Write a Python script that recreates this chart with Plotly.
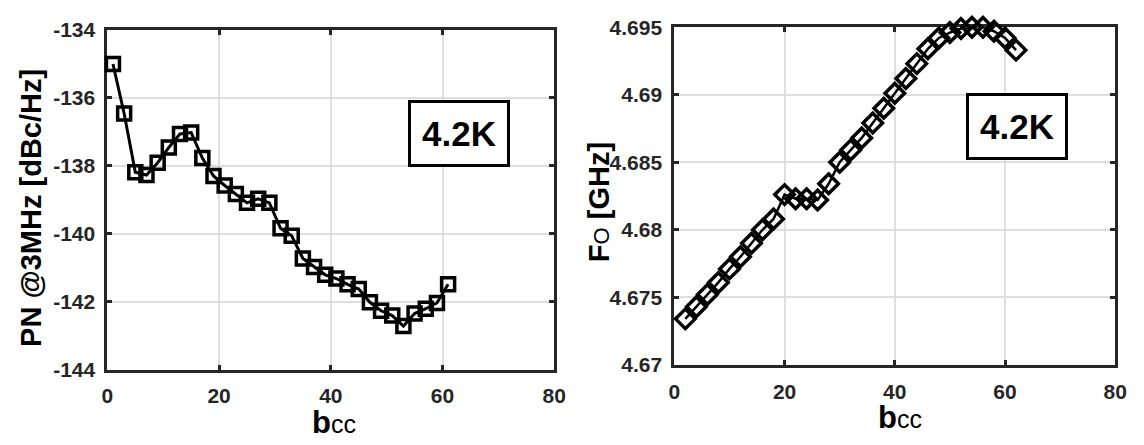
import plotly.graph_objects as go

# ---------------- data ----------------
bcc_left = [1, 3, 5, 7, 9, 11, 13, 15, 17, 19, 21, 23, 25, 27, 29, 31,
            33, 35, 37, 39, 41, 43, 45, 47, 49, 51, 53, 55, 57, 59, 61]
pn_dbc = [-135.0, -136.46, -138.19, -138.27, -137.91, -137.46, -137.06, -137.02,
          -137.77, -138.30, -138.58, -138.83, -139.09, -138.97, -139.09, -139.84,
          -140.06, -140.73, -140.98, -141.21, -141.32, -141.49, -141.63, -142.02,
          -142.27, -142.41, -142.72, -142.35, -142.21, -142.04, -141.49]

bcc_right = [2, 4, 6, 8, 10, 12, 14, 16, 18, 20, 22, 24, 26, 28, 30, 32,
             34, 36, 38, 40, 42, 44, 46, 48, 50, 52, 54, 56, 58, 60, 62]
f0_ghz = [4.6734, 4.6743, 4.6752, 4.6761, 4.6771, 4.6780, 4.6790, 4.6800,
          4.6808, 4.6826, 4.6823, 4.6823, 4.6822, 4.6834, 4.6850, 4.6859,
          4.6868, 4.6879, 4.6890, 4.6901, 4.6912, 4.6923, 4.6934, 4.6942,
          4.6946, 4.6949, 4.6950, 4.6950, 4.6947, 4.6942, 4.6933]

x_ticks = [0, 20, 40, 60, 80]
x_ticktext = ["0", "20", "40", "60", "80"]
pn_ticks = [-144, -142, -140, -138, -136, -134]
pn_ticktext = ["-144", "-142", "-140", "-138", "-136", "-134"]
f_ticks = [4.67, 4.675, 4.68, 4.685, 4.69, 4.695]
f_ticktext = ["4.67", "4.675", "4.68", "4.685", "4.69", "4.695"]

temp_label = "4.2K"

# ---------------- style ----------------
AX = "#262626"
GRID = "#dedede"
FONT = "Liberation Sans, Arial, sans-serif"
TICKFONT = dict(family=FONT, size=21, color=AX)


def bold(labels):
    return ["<b>" + t + "</b>" for t in labels]


fig = go.Figure()

fig.add_trace(go.Scatter(
    x=bcc_left, y=pn_dbc, mode="lines+markers", xaxis="x", yaxis="y",
    line=dict(color="black", width=3),
    marker=dict(symbol="square-open", size=13, color="black", line=dict(width=3.5, color="black")),
    cliponaxis=False, showlegend=False))

fig.add_trace(go.Scatter(
    x=bcc_right, y=f0_ghz, mode="lines+markers", xaxis="x2", yaxis="y2",
    line=dict(color="black", width=2.5),
    marker=dict(symbol="diamond-open", size=15, color="black", line=dict(width=3.5, color="black")),
    cliponaxis=False, showlegend=False))

W, H = 1144, 445


def px_x(p):
    return p / W


def px_y(p):
    return 1 - p / H


common_axis = dict(showline=True, linecolor=AX, linewidth=3, mirror="ticks",
                   ticks="inside", ticklen=5, tickwidth=3, tickcolor=AX,
                   showgrid=True, gridcolor=GRID, gridwidth=2, zeroline=False,
                   tickfont=TICKFONT, layer="below traces")

fig.update_layout(
    width=W, height=H,
    margin=dict(l=0, r=0, t=0, b=0),
    paper_bgcolor="white", plot_bgcolor="white",
    xaxis=dict(domain=[px_x(103), px_x(557)], range=[0, 80], anchor="y",
               tickvals=x_ticks, ticktext=bold(x_ticktext), ticklabelstandoff=5, **common_axis),
    yaxis=dict(domain=[px_y(377), px_y(19)], range=[-144, -134], anchor="x",
               tickvals=pn_ticks, ticktext=bold(pn_ticktext), ticklabelstandoff=5, **common_axis),
    xaxis2=dict(domain=[px_x(679), px_x(1127)], range=[0, 80], anchor="y2",
                tickvals=x_ticks, ticktext=bold(x_ticktext), ticklabelstandoff=6, **common_axis),
    yaxis2=dict(domain=[px_y(372), px_y(16)], range=[4.67, 4.695], anchor="x2",
                tickvals=f_ticks, ticktext=bold(f_ticktext), ticklabelstandoff=5, **common_axis),
)

title_font = dict(family=FONT, size=29, color="black")

annotations = [
    # y titles
    dict(text="<b>PN @3MHz [dBc/Hz]</b>", x=px_x(26), y=px_y(207), xref="paper", yref="paper",
         textangle=-90, showarrow=False, font=title_font, xanchor="center", yanchor="middle"),
    dict(text="<b>F</b><span style='font-size:22px'>O</span><b> [GHz]</b>", x=px_x(602), y=px_y(201),
         xref="paper", yref="paper", textangle=-90, showarrow=False, font=title_font,
         xanchor="center", yanchor="middle"),
    # x titles
    dict(text="<b>b</b><span style='font-size:25px'>cc</span>", x=px_x(333), y=px_y(433),
         xref="paper", yref="paper", showarrow=False, font=dict(family=FONT, size=31, color="black"),
         xanchor="center", yanchor="middle"),
    dict(text="<b>b</b><span style='font-size:25px'>cc</span>", x=px_x(908), y=px_y(428),
         xref="paper", yref="paper", showarrow=False, font=dict(family=FONT, size=31, color="black"),
         xanchor="center", yanchor="middle"),
    # temperature boxes
    dict(text="<b>" + temp_label + "</b>", x=px_x(460.5), y=px_y(128.5), xref="paper", yref="paper",
         showarrow=False, font=dict(family=FONT, size=35, color="black"),
         bordercolor="black", borderwidth=3, borderpad=11, bgcolor="white",
         xanchor="center", yanchor="middle"),
    dict(text="<b>" + temp_label + "</b>", x=px_x(1027), y=px_y(121), xref="paper", yref="paper",
         showarrow=False, font=dict(family=FONT, size=35, color="black"),
         bordercolor="black", borderwidth=3, borderpad=11, bgcolor="white",
         xanchor="center", yanchor="middle"),
]
fig.update_layout(annotations=annotations)

fig.write_html("out.html")
